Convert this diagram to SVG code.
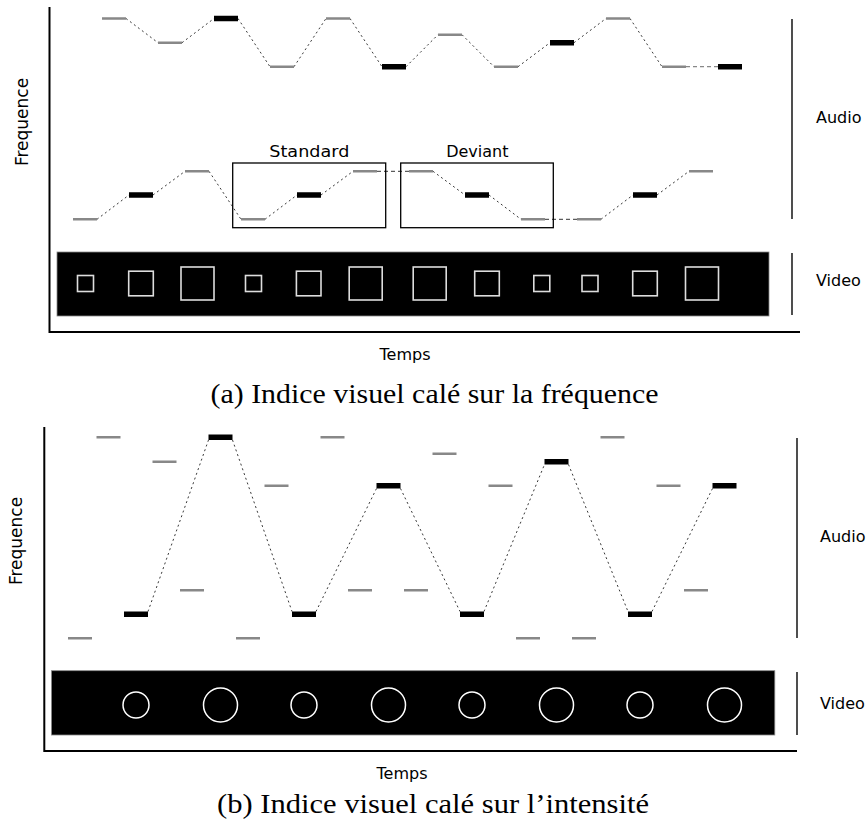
<svg xmlns="http://www.w3.org/2000/svg" width="866" height="829" viewBox="0 0 866 829">
<style>
.lbl{font-family:"DejaVu Sans",sans-serif;font-size:16px;fill:#000}
.cap{font-family:"Liberation Serif",serif;font-size:27px;fill:#000}
.g{stroke:#888;stroke-width:2.5;fill:none}
.b{stroke:#000;stroke-width:5.5;fill:none}
.d{stroke:#222;stroke-width:0.9;stroke-dasharray:2,3;fill:none}
.dh{stroke:#333;stroke-width:1;stroke-dasharray:4,3;fill:none}
.dg{stroke:#888;stroke-width:1.2;stroke-dasharray:4,3;fill:none}
.axis{stroke:#000;stroke-width:2;fill:none}
.side{stroke:#222;stroke-width:1.6;fill:none}
.box{stroke:#000;stroke-width:1.3;fill:none}
.band{fill:#000;stroke:#888;stroke-width:0.8}
.sq{fill:none;stroke:#ddd;stroke-width:1.6}
.ci{fill:none;stroke:#fff;stroke-width:1.5}
</style>
<rect width="866" height="829" fill="#fff"/>

<!-- ===== Panel (a) ===== -->
<g id="panel-a-axes">
<path class="axis" d="M49.5,7 V332 H800"/>
<path class="side" d="M792,19 V219"/>
<path class="side" d="M792,253 V315"/>
<text class="lbl" x="816" y="123">Audio</text>
<text class="lbl" x="816" y="286">Video</text>
<text class="lbl" x="405" y="360" text-anchor="middle">Temps</text>
<text class="lbl" style="font-size:17px" transform="translate(28,122) rotate(-90)" text-anchor="middle">Frequence</text>
</g>

<g id="a-connectors">
<path class="d" d="M126,18.5 L158,42.7 M182,42.7 L214,18.5 M238,18.5 L270,66.7 M294,66.7 L326,18.5 M350,18.5 L382,66.7 M406,66.7 L438,34.7 M462,34.7 L494,66.7 M518,66.7 L550,42.7 M574,42.7 L606,18.5 M630,18.5 L662,66.7"/>
<path class="dg" d="M686,66.7 L718,66.7"/>
<path class="d" d="M97,219.3 L129,195 M153,195 L185,171.3 M209,171.3 L241,219.3 M265,219.3 L297,195 M321,195 L353,171.3 M433,171.3 L465,195 M489,195 L521,219.3 M601,219.3 L633,195 M657,195 L689,171.3"/>
<path class="dh" d="M377,171.3 L409,171.3 M545,219.3 L577,219.3"/>
</g>

<g id="a-row1">
<path class="g" d="M102,18.5 h24 M158,42.7 h24 M270,66.7 h24 M326,18.5 h24 M438,34.7 h24 M494,66.7 h24 M606,18.5 h24 M662,66.7 h24"/>
<path class="b" d="M214,18.5 h24 M382,66.7 h24 M550,42.7 h24 M718,66.7 h24"/>
</g>

<g id="a-row2">
<path class="g" d="M73,219.3 h24 M185,171.3 h24 M241,219.3 h24 M353,171.3 h24 M409,171.3 h24 M521,219.3 h24 M577,219.3 h24 M689,171.3 h24"/>
<path class="b" d="M129,195 h24 M297,195 h24 M465,195 h24 M633,195 h24"/>
</g>

<g id="standard">
<rect class="box" x="232.7" y="163" width="153" height="64.7"/>
<text class="lbl" x="309.3" y="157" text-anchor="middle" textLength="80" lengthAdjust="spacingAndGlyphs">Standard</text>
</g>
<g id="deviant">
<rect class="box" x="400.7" y="163" width="152.6" height="64.7"/>
<text class="lbl" x="477.3" y="157" text-anchor="middle">Deviant</text>
</g>

<g id="a-video">
<rect class="band" x="57" y="252" width="712" height="64"/>
<rect class="sq" x="77.5" y="275.5" width="16" height="16"/>
<rect class="sq" x="128.7" y="271.2" width="24.6" height="24.6"/>
<rect class="sq" x="181" y="267" width="33" height="33"/>
<rect class="sq" x="245.5" y="275.5" width="16" height="16"/>
<rect class="sq" x="296.4" y="271.2" width="24.6" height="24.6"/>
<rect class="sq" x="349.2" y="267" width="33" height="33"/>
<rect class="sq" x="413.2" y="267" width="33" height="33"/>
<rect class="sq" x="474.7" y="271.2" width="24.6" height="24.6"/>
<rect class="sq" x="533.8" y="275.5" width="16" height="16"/>
<rect class="sq" x="582" y="275.5" width="16" height="16"/>
<rect class="sq" x="632.7" y="271.2" width="24.6" height="24.6"/>
<rect class="sq" x="685.5" y="267" width="33" height="33"/>
</g>

<text class="cap" x="434.5" y="403" text-anchor="middle" textLength="448" lengthAdjust="spacingAndGlyphs">(a) Indice visuel calé sur la fréquence</text>

<!-- ===== Panel (b) ===== -->
<g id="panel-b-axes">
<path class="axis" d="M44.3,427 V751 H797"/>
<path class="side" d="M797,438 V638"/>
<path class="side" d="M797,672 V735"/>
<text class="lbl" x="820" y="542">Audio</text>
<text class="lbl" x="820" y="709">Video</text>
<text class="lbl" x="402" y="779" text-anchor="middle">Temps</text>
<text class="lbl" style="font-size:17px" transform="translate(22,541) rotate(-90)" text-anchor="middle">Frequence</text>
</g>

<g id="b-connectors">
<path class="d" d="M148,611.5 L208.5,440 M232.5,440 L292,611.5 M316,611.5 L376.5,488.5 M400.5,488.5 L460,611.5 M484,611.5 L544.5,464.5 M568.5,464.5 L628,611.5 M652,611.5 L712.5,488.5"/>
</g>

<g id="b-upper">
<path class="g" d="M96.5,437.3 h24 M152.5,461.7 h24 M264.5,485.7 h24 M320.5,437.3 h24 M432.5,453.7 h24 M488.5,485.7 h24 M600.5,437.3 h24 M656.5,485.7 h24"/>
<path class="b" d="M208.5,437.3 h24 M376.5,485.7 h24 M544.5,461.7 h24 M712.5,485.7 h24"/>
</g>

<g id="b-lower">
<path class="g" d="M68,638.3 h24 M180,590.3 h24 M236,638.3 h24 M348,590.3 h24 M404,590.3 h24 M516,638.3 h24 M572,638.3 h24 M684,590.3 h24"/>
<path class="b" d="M124,614.3 h24 M292,614.3 h24 M460,614.3 h24 M628,614.3 h24"/>
</g>

<g id="b-video">
<rect class="band" x="51.5" y="670.7" width="723.3" height="64.3"/>
<circle class="ci" cx="136" cy="705" r="13"/>
<circle class="ci" cx="220.5" cy="705" r="17"/>
<circle class="ci" cx="304" cy="705" r="13"/>
<circle class="ci" cx="388.5" cy="705" r="17"/>
<circle class="ci" cx="472" cy="705" r="13"/>
<circle class="ci" cx="556.5" cy="705" r="17"/>
<circle class="ci" cx="640" cy="705" r="13"/>
<circle class="ci" cx="724.5" cy="705" r="17"/>
</g>

<text class="cap" x="433" y="813" text-anchor="middle" textLength="432" lengthAdjust="spacingAndGlyphs">(b) Indice visuel calé sur l’intensité</text>
</svg>
